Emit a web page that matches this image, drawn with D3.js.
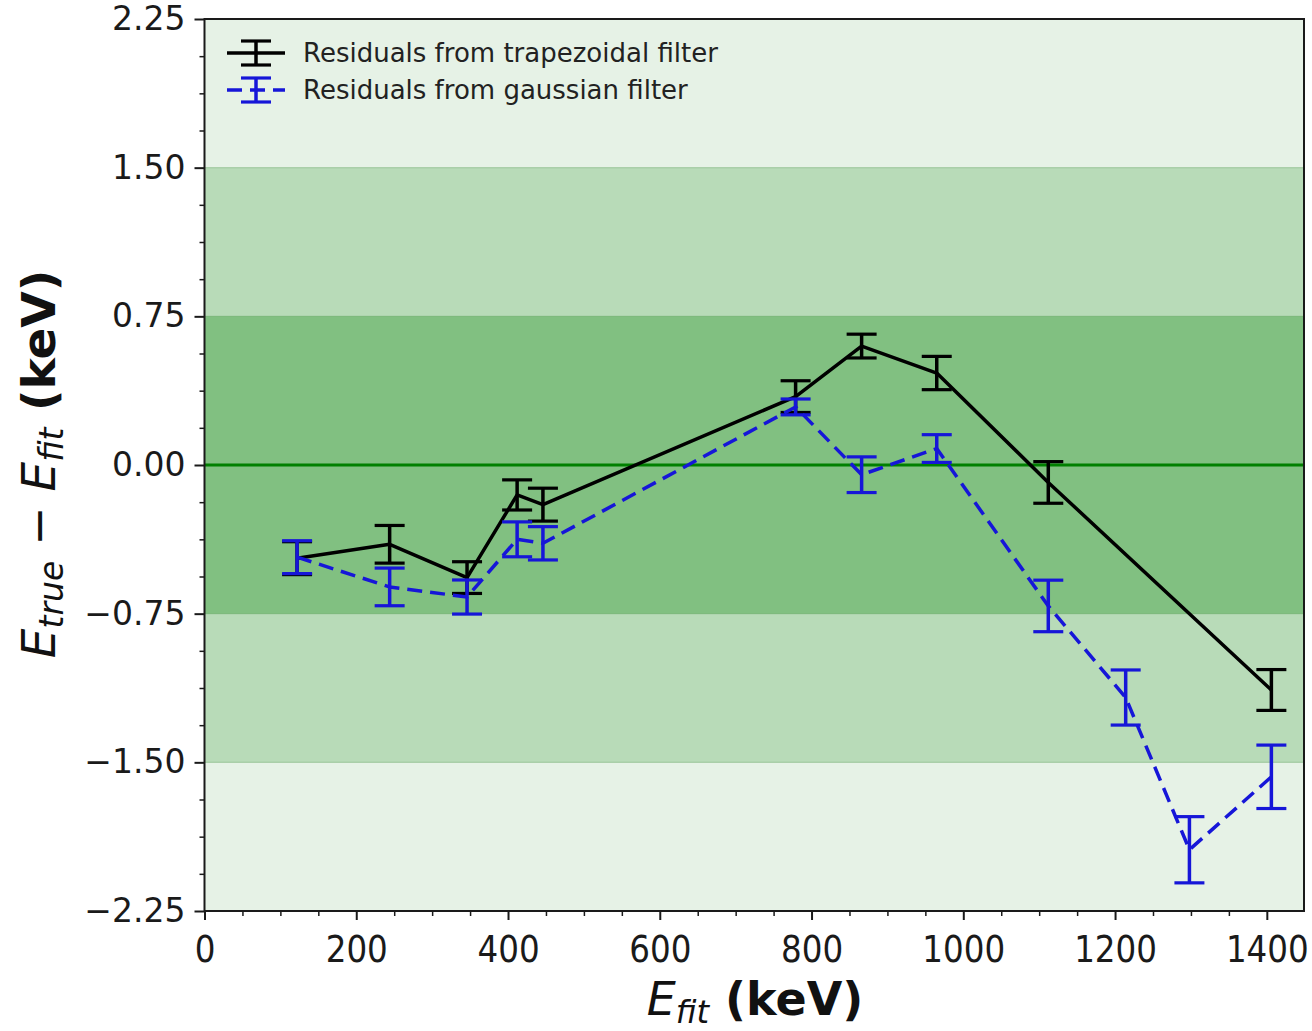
<!DOCTYPE html>
<html>
<head>
<meta charset="utf-8">
<script src="https://cdn.jsdelivr.net/npm/d3@7"></script>
<style>
  html, body { margin: 0; padding: 0; background: #ffffff; }
  svg text { font-family: "DejaVu Sans", sans-serif; }
</style>
</head>
<body>
<div id="chart"></div>
<script>
// ---- data ----
const trapE   = [122, 244, 346, 412, 446, 779, 866, 965, 1112, 1406];
const trapRes = [-0.47, -0.40, -0.568, -0.151, -0.20, 0.345, 0.60, 0.464, -0.088, -1.135];
const trapErr = [0.083, 0.095, 0.08, 0.076, 0.083, 0.08, 0.06, 0.084, 0.105, 0.103];

const gaussE   = [122, 244, 346, 412, 446, 779, 866, 965, 1112, 1214, 1298, 1406];
const gaussRes = [-0.465, -0.615, -0.666, -0.375, -0.395, 0.293, -0.049, 0.083, -0.711, -1.173, -1.941, -1.573];
const gaussErr = [0.083, 0.095, 0.086, 0.088, 0.084, 0.04, 0.09, 0.07, 0.13, 0.139, 0.167, 0.16];

const bands = [2.25, 1.5, 0.75];   // half-widths of the shaded spans
const bandColors = ["#e6f2e6", "#b8dbb8", "#81c081"];

const xTicks = [0, 200, 400, 600, 800, 1000, 1200, 1400];
const yTicks = [-2.25, -1.5, -0.75, 0, 0.75, 1.5, 2.25];

const seriesInfo = [
  { label: "Residuals from trapezoidal filter", color: "#000000", dash: null, E: trapE, R: trapRes, S: trapErr },
  { label: "Residuals from gaussian filter", color: "#1616d8", dash: "15,8", E: gaussE, R: gaussRes, S: gaussErr }
];

// ---- layout ----
const W = 1312, H = 1031;
const margin = { top: 19, right: 8, bottom: 120, left: 204.5 };

const svg = d3.select("#chart").append("svg")
  .attr("width", W).attr("height", H);

const x = d3.scaleLinear().domain([0, 1449]).range([margin.left, W - margin.right]);
const y = d3.scaleLinear().domain([-2.25, 2.25]).range([H - margin.bottom, margin.top]);

const plotW = x.range()[1] - x.range()[0];

// shaded spans
bands.forEach((b, i) => {
  svg.append("rect")
    .attr("x", x(0)).attr("width", plotW)
    .attr("y", y(b)).attr("height", y(-b) - y(b))
    .attr("fill", bandColors[i]);
  if (i > 0) {
    [b, -b].forEach(v => {
      svg.append("line")
        .attr("x1", x(0)).attr("x2", x.range()[1])
        .attr("y1", y(v)).attr("y2", y(v))
        .attr("stroke", "#5a9e57").attr("stroke-opacity", 0.35).attr("stroke-width", 1.2);
    });
  }
});

// zero line
svg.append("line")
  .attr("x1", x(0)).attr("x2", x.range()[1])
  .attr("y1", y(0)).attr("y2", y(0))
  .attr("stroke", "#008000").attr("stroke-width", 3);

// series
const line = d3.line().x(d => x(d[0])).y(d => y(d[1]));
const capW = 15;

seriesInfo.forEach(s => {
  const pts = s.E.map((e, i) => [e, s.R[i], s.S[i]]);
  const g = svg.append("g");
  g.append("path")
    .attr("d", line(pts))
    .attr("fill", "none")
    .attr("stroke", s.color).attr("stroke-width", 3.5)
    .attr("stroke-dasharray", s.dash)
    .attr("stroke-linejoin", "round");

  const eb = g.selectAll(".eb").data(pts).enter().append("g");
  eb.append("line")
    .attr("x1", d => x(d[0])).attr("x2", d => x(d[0]))
    .attr("y1", d => y(d[1] + d[2])).attr("y2", d => y(d[1] - d[2]))
    .attr("stroke", s.color).attr("stroke-width", 3.5);
  [1, -1].forEach(sg => {
    eb.append("line")
      .attr("x1", d => x(d[0]) - capW).attr("x2", d => x(d[0]) + capW)
      .attr("y1", d => y(d[1] + sg * d[2])).attr("y2", d => y(d[1] + sg * d[2]))
      .attr("stroke", s.color).attr("stroke-width", 3.2);
  });
});

// frame
svg.append("rect")
  .attr("x", x(0)).attr("y", y(2.25))
  .attr("width", plotW).attr("height", y(-2.25) - y(2.25))
  .attr("fill", "none").attr("stroke", "#1a1a1a").attr("stroke-width", 2);

// x axis
const xMinor = d3.range(0, 1450, 50).filter(v => v % 200 !== 0);
svg.append("g")
  .attr("transform", `translate(0,${y(-2.25)})`)
  .call(d3.axisBottom(x).tickValues(xMinor).tickSize(5).tickFormat(""))
  .call(g => g.select(".domain").remove())
  .call(g => g.selectAll("line").attr("stroke", "#1a1a1a").attr("stroke-width", 1.5));

const xAxis = svg.append("g")
  .attr("transform", `translate(0,${y(-2.25)})`)
  .call(d3.axisBottom(x).tickValues(xTicks).tickSize(9).tickPadding(0).tickFormat(d3.format("d")))
  .call(g => g.select(".domain").remove())
  .call(g => g.selectAll("line").attr("stroke", "#1a1a1a").attr("stroke-width", 2));
xAxis.selectAll("text")
  .attr("y", null).attr("dy", null)
  .attr("transform", "translate(0,51) scale(0.88,1)")
  .attr("font-size", 37).attr("fill", "#1a1a1a");

// y axis
const yMinor = d3.range(-2.25, 2.2501, 0.1875).filter(v => Math.abs((v / 0.75) - Math.round(v / 0.75)) > 1e-6);
svg.append("g")
  .attr("transform", `translate(${x(0)},0)`)
  .call(d3.axisLeft(y).tickValues(yMinor).tickSize(5).tickFormat(""))
  .call(g => g.select(".domain").remove())
  .call(g => g.selectAll("line").attr("stroke", "#1a1a1a").attr("stroke-width", 1.5));

svg.append("g")
  .attr("transform", `translate(${x(0)},0)`)
  .call(d3.axisLeft(y).tickValues(yTicks).tickSize(10).tickPadding(9)
    .tickFormat(d => d3.format(".2f")(d).replace("-", "\u2212")))
  .call(g => g.select(".domain").remove())
  .call(g => g.selectAll("line").attr("stroke", "#1a1a1a").attr("stroke-width", 2))
  .call(g => g.selectAll("text").attr("font-size", 33).attr("fill", "#1a1a1a")
    .attr("font-family", "DejaVu Sans"));

// axis titles
const xt = svg.append("text")
  .attr("transform", "translate(755,1015)")
  .attr("text-anchor", "middle")
  .attr("font-size", 46).attr("fill", "#111");
xt.append("tspan").attr("font-style", "italic").text("E");
xt.append("tspan").attr("font-style", "italic").attr("font-size", 32).attr("dy", 8).text("fit");
xt.append("tspan").attr("font-weight", "bold").attr("dy", -8).text(" (keV)");

const yt = svg.append("text")
  .attr("transform", "translate(55,464) rotate(-90)")
  .attr("text-anchor", "middle")
  .attr("font-size", 47).attr("fill", "#111");
yt.append("tspan").attr("font-style", "italic").text("E");
yt.append("tspan").attr("font-style", "italic").attr("font-size", 33).attr("dy", 8).text("true");
yt.append("tspan").attr("dy", -8).text(" \u2212 ");
yt.append("tspan").attr("font-style", "italic").text("E");
yt.append("tspan").attr("font-style", "italic").attr("font-size", 33).attr("dy", 8).text("fit");
yt.append("tspan").attr("font-weight", "bold").attr("dy", -8).text(" (keV)");

// legend
const legend = svg.append("g").attr("transform", "translate(227,53)");
seriesInfo.forEach((s, i) => {
  const g = legend.append("g").attr("transform", `translate(0,${i * 37})`);
  g.append("line")
    .attr("x1", 0).attr("x2", 58).attr("y1", 0).attr("y2", 0)
    .attr("stroke", s.color).attr("stroke-width", 3.5)
    .attr("stroke-dasharray", s.dash);
  g.append("line")
    .attr("x1", 29).attr("x2", 29).attr("y1", -12).attr("y2", 12)
    .attr("stroke", s.color).attr("stroke-width", 3.5);
  [-12, 12].forEach(v => g.append("line")
    .attr("x1", 29 - capW).attr("x2", 29 + capW).attr("y1", v).attr("y2", v)
    .attr("stroke", s.color).attr("stroke-width", 3.2));
  g.append("text")
    .attr("x", 76).attr("y", 0).attr("dy", "0.35em")
    .attr("font-size", 26).attr("fill", "#222")
    .text(s.label);
});
</script>
</body>
</html>
